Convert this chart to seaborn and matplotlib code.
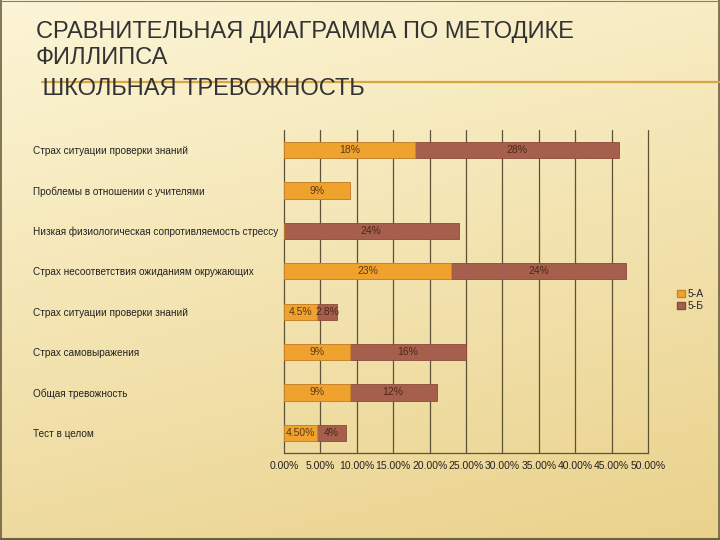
import numpy as np
import pandas as pd
import matplotlib
matplotlib.use("Agg")
import matplotlib.pyplot as plt
import seaborn as sns
from matplotlib.patches import Patch

categories = [
    "Страх ситуации проверки знаний",
    "Проблемы в отношении с учителями",
    "Низкая физиологическая сопротивляемость стрессу",
    "Страх несоответствия ожиданиям окружающих",
    "Страх ситуации проверки знаний ",
    "Страх самовыражения",
    "Общая тревожность",
    "Тест в целом",
]
values_5a = [18, 9, 0, 23, 4.5, 9, 9, 4.5]
values_5b = [28, 0, 24, 24, 2.8, 16, 12, 4]
labels_5a = ["18%", "9%", "", "23%", "4.5%", "9%", "9%", "4.50%"]
labels_5b = ["28%", "", "24%", "24%", "2.8%", "16%", "12%", "4%"]
series_names = ["5-А", "5-Б"]
xticks = [0, 5, 10, 15, 20, 25, 30, 35, 40, 45, 50]
xtick_labels = ["0.00%", "5.00%", "10.00%", "15.00%", "20.00%", "25.00%",
                "30.00%", "35.00%", "40.00%", "45.00%", "50.00%"]
title_lines = ["СРАВНИТЕЛЬНАЯ ДИАГРАММА ПО МЕТОДИКЕ", "ФИЛЛИПСА", " ШКОЛЬНАЯ ТРЕВОЖНОСТЬ"]

sns.set_style("white")
plt.rcParams['font.family'] = ['Liberation Sans', 'DejaVu Sans']

C_A = "#F0A22E"
C_B = "#A65F4C"

df = pd.DataFrame({
    "cat": categories,
    "a": values_5a,
    "b": values_5b,
})
df["total"] = df["a"] + df["b"]

fig = plt.figure(figsize=(7.2, 5.4), dpi=100)

# background gradient
bg = fig.add_axes([0, 0, 1, 1], zorder=-10)
yy = np.linspace(0, 1, 200)[:, None]
xx = np.linspace(0, 1, 300)[None, :]
t = np.clip(0.75 * yy + 0.25 * xx, 0, 1)
top = np.array([252, 245, 214]) / 255
bot = np.array([234, 210, 140]) / 255
img = top[None, None, :] * (1 - t[..., None]) + bot[None, None, :] * t[..., None]
bg.imshow(img, aspect="auto", extent=[0, 1, 0, 1], origin="upper")
bg.set_xlim(0, 1); bg.set_ylim(0, 1)
bg.axis("off")
# thin slide border
for sp_x in ([0.001, 0.001], [0.999, 0.999]):
    bg.plot(sp_x, [0, 1], color="#6B6040", lw=1.2)
bg.plot([0, 1], [0.002, 0.002], color="#6B6040", lw=1.5)
bg.plot([0, 1], [0.999, 0.999], color="#8A8060", lw=0.8)
# title underline
bg.plot([42 / 720, 1.0], [1 - 82 / 540, 1 - 82 / 540], color="#D9A441", lw=1.6)

# titles
tfam = ['Liberation Sans', 'DejaVu Sans']
for txt, base in zip(title_lines, [38, 64, 95]):
    fig.text(36 / 720, 1 - base / 540, txt, fontsize=17, color="#333333",
             family=tfam, va="baseline")

ax = fig.add_axes([284 / 720, 1 - 453 / 540, (648 - 284) / 720, (453 - 130) / 540])
ax.patch.set_alpha(0)

# gridlines
for xv in xticks:
    ax.axvline(xv, color="#5E5236", lw=0.9, zorder=0, clip_on=False)

sns.barplot(data=df, x="total", y="cat", orient="h", color=C_B, width=0.4,
            edgecolor="#8A4A3A", linewidth=0.6, ax=ax, zorder=2, saturation=1)
sns.barplot(data=df, x="a", y="cat", orient="h", color=C_A, width=0.4,
            edgecolor="#C8862A", linewidth=0.6, ax=ax, zorder=3, saturation=1)

for i, (a, b) in enumerate(zip(values_5a, values_5b)):
    if labels_5a[i]:
        ax.text(a / 2, i, labels_5a[i], ha="center", va="center", fontsize=7.5,
                color="#5A3A14", zorder=5)
    if labels_5b[i]:
        ax.text(a + b / 2, i, labels_5b[i], ha="center", va="center", fontsize=7.5,
                color="#4A2A1A", zorder=5)

ax.set_xlim(0, 50)
ax.set_ylim(7.5, -0.5)
ax.set_xticks(xticks)
ax.set_xticklabels(xtick_labels, fontsize=7.5, color="#222222")
ax.set_yticks(range(len(categories)))
ax.set_yticklabels(categories, fontsize=7.2, color="#222222")
pad_pt = (284 - 33) * 72 / 100
ax.tick_params(axis="y", length=0, pad=pad_pt)
ax.tick_params(axis="x", length=0, pad=6)
for lab in ax.get_yticklabels():
    lab.set_ha("left")
ax.set_xlabel("")
ax.set_ylabel("")
for s in ["top", "right", "left"]:
    ax.spines[s].set_visible(False)
ax.spines["bottom"].set_color("#5E5236")
ax.spines["bottom"].set_linewidth(0.9)

handles = [Patch(facecolor=C_A, edgecolor="#C8862A"), Patch(facecolor=C_B, edgecolor="#8A4A3A")]
fig.legend(handles, series_names, loc="center left", bbox_to_anchor=(672 / 720, 1 - 300 / 540),
           frameon=False, fontsize=7.5, handlelength=0.7, handleheight=0.7,
           handletextpad=0.3, labelspacing=0.2, borderpad=0)

fig.savefig("out.png", dpi=100)
